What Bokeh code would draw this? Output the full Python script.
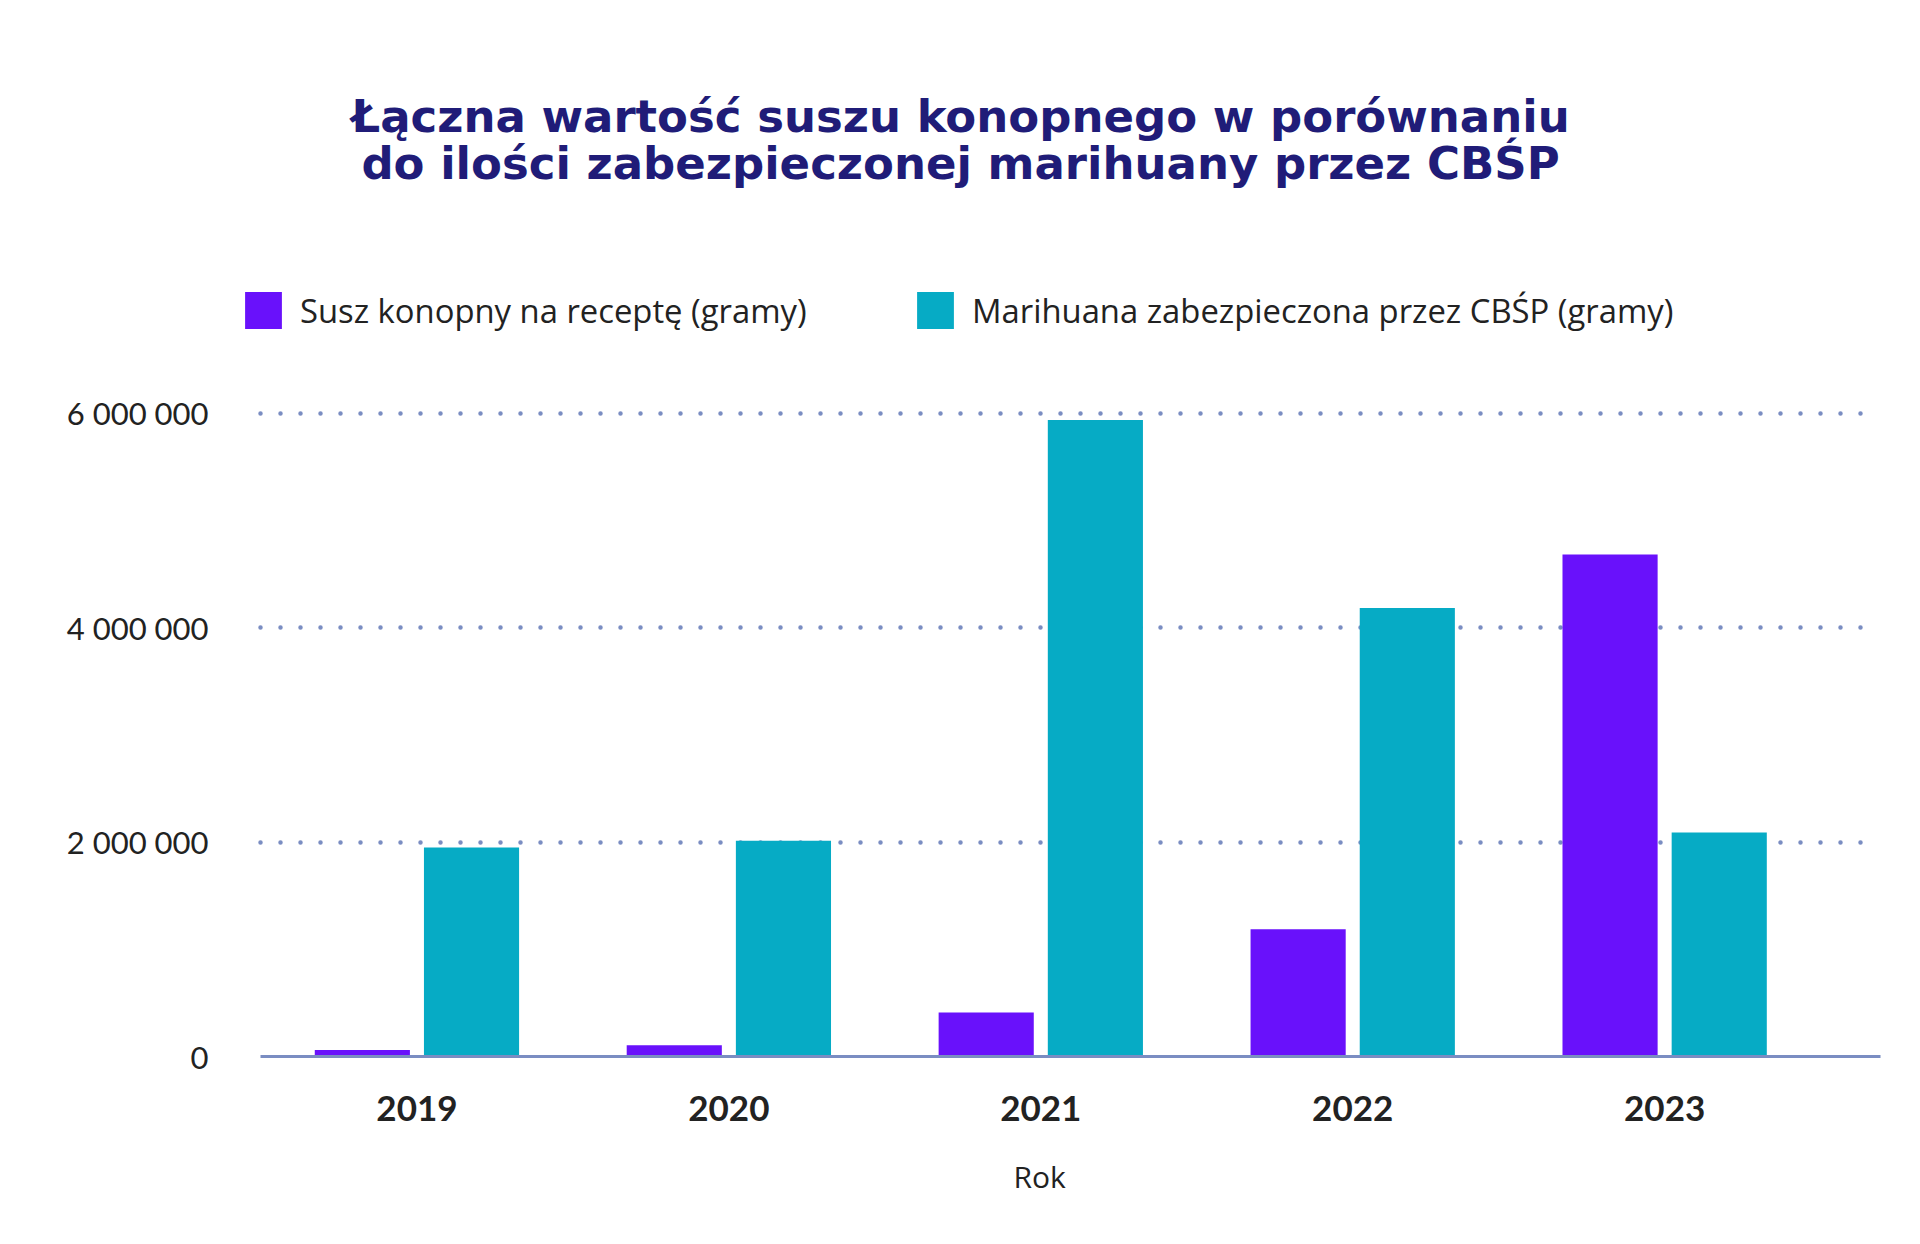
from bokeh.plotting import figure
from bokeh.models import ColumnDataSource, FixedTicker, Label, Legend, LegendItem, Range1d, Title
from bokeh.transform import dodge
from bokeh.embed import file_html
from bokeh.resources import INLINE

# ---------------- data ----------------
years = ["2019", "2020", "2021", "2022", "2023"]
susz_grams = [60000, 105000, 411000, 1188000, 4684000]
marihuana_grams = [1950000, 2012000, 5938000, 4184000, 2089000]
series_names = ["Susz konopny na receptę (gramy)",
                "Marihuana zabezpieczona przez CBŚP (gramy)"]
y_ticks = [0, 2000000, 4000000, 6000000]
y_tick_labels = ["0", "2 000 000", "4 000 000", "6 000 000"]
title_lines = ["Łączna wartość suszu konopnego w porównaniu",
               "do ilości zabezpieczonej marihuany przez CBŚP"]
x_axis_title = "Rok"

# ---------------- style ----------------
PURPLE = "#6911fb"
TEAL = "#06abc5"
GRID = "#7a8dc2"
NAVY = "#201c78"
TEXT = "#222222"
FONT = "Lato"
FONT2 = "Open Sans"

W, H = 1904, 1236
ML, MR, MT, MB = 236, 24, 0, 180            # frame: x 236..1880, y 0..1056
FL, FR, FT, FB = ML, W - MR, MT, H - MB
PX_PER_UNIT_Y = 107.17e-6                    # pixels per gram on the value axis
x_vis_start, x_end = -0.5015, 4.692          # visible axis / grid span (x 260..1880)
x_start = x_vis_start - (260 - FL) * (x_end - x_vis_start) / (FR - 260)
y_start = 0
y_end = (FB - FT) / PX_PER_UNIT_Y            # headroom above 6 M holds title + legend

idx = list(range(len(years)))
src = ColumnDataSource(dict(idx=idx, year=years, susz=susz_grams, mar=marihuana_grams))

p = figure(width=W, height=H, title=None, toolbar_location=None, output_backend="svg",
           x_range=Range1d(x_start, x_end), y_range=Range1d(y_start, y_end),
           min_border_left=ML, min_border_right=MR, min_border_top=MT, min_border_bottom=MB)
p.outline_line_color = None
p.background_fill_color = "white"
p.border_fill_color = "white"

r1 = p.vbar(x=dodge("idx", -0.175, range=p.x_range), top="susz", width=0.305, source=src,
            fill_color=PURPLE, line_color=None)
r2 = p.vbar(x=dodge("idx", 0.175, range=p.x_range), top="mar", width=0.305, source=src,
            fill_color=TEAL, line_color=None)

# axes
p.xaxis.bounds = (x_vis_start, x_end)
p.xaxis.ticker = FixedTicker(ticks=idx)
p.xaxis.major_label_overrides = {i: y for i, y in zip(idx, years)}
p.xaxis.axis_line_color = GRID
p.xaxis.axis_line_width = 3
p.xaxis.major_tick_line_color = None
p.xaxis.minor_tick_line_color = None
p.xaxis.major_tick_in = 0
p.xaxis.major_tick_out = 0
p.xaxis.major_label_standoff = 39
p.xaxis.major_label_text_font = FONT
p.xaxis.major_label_text_font_style = "bold"
p.xaxis.major_label_text_font_size = "35px"
p.xaxis.major_label_text_color = TEXT

p.yaxis.ticker = FixedTicker(ticks=y_ticks)
p.yaxis.major_label_overrides = {t: l for t, l in zip(y_ticks, y_tick_labels)}
p.yaxis.axis_line_color = None
p.yaxis.major_tick_line_color = None
p.yaxis.minor_tick_line_color = None
p.yaxis.major_tick_in = 0
p.yaxis.major_tick_out = 0
p.yaxis.major_label_standoff = 52 - (260 - FL)
p.yaxis.major_label_text_font = FONT
p.yaxis.major_label_text_font_size = "31px"
p.yaxis.major_label_text_color = TEXT

p.xgrid.grid_line_color = None
p.ygrid.ticker = FixedTicker(ticks=[t for t in y_ticks if t > 0])
p.ygrid.cross_bounds = (x_vis_start, x_end)
p.ygrid.grid_line_color = GRID
p.ygrid.grid_line_width = 4.5
p.ygrid.grid_line_dash = "0 20"
p.ygrid.grid_line_cap = "round"

# helpers: canvas pixel -> data coordinate (for text placement only)
ux = (FR - FL) / (x_end - x_start)
def dx(px):
    return x_start + (px - FL) / ux
def dy(py):
    return y_start + (FB - py) * (y_end - y_start) / (FB - FT)

# two-line title, centred on the page
for line, base in zip(title_lines, [116, 163]):
    p.add_layout(Label(x=dx(960), y=dy(base), text=line, text_align="center",
                       text_baseline="alphabetic", text_font="DejaVu Sans",
                       text_font_style="bold", text_font_size="45px", text_color=NAVY))

# legend inside the (extended) frame
legend = Legend(items=[LegendItem(label=series_names[0], renderers=[r1]),
                       LegendItem(label=series_names[1], renderers=[r2])],
                orientation="horizontal", location=(240 - FL, FB - 287 - 46),
                glyph_width=46, glyph_height=46, label_standoff=14, label_width=507,
                spacing=105, padding=0, margin=0, border_line_color=None,
                background_fill_alpha=0, label_text_font=FONT2,
                label_text_font_size="32.8px", label_text_color=TEXT)
p.add_layout(legend, "center")

# x axis title, centred on the category block
p.add_layout(Title(text=x_axis_title, align="left", offset=753 + (260 - FL), standoff=60,
                   text_font=FONT2, text_font_style="normal", text_font_size="30px",
                   text_color=TEXT), "below")

open("out.html", "w").write(file_html(p, INLINE))
